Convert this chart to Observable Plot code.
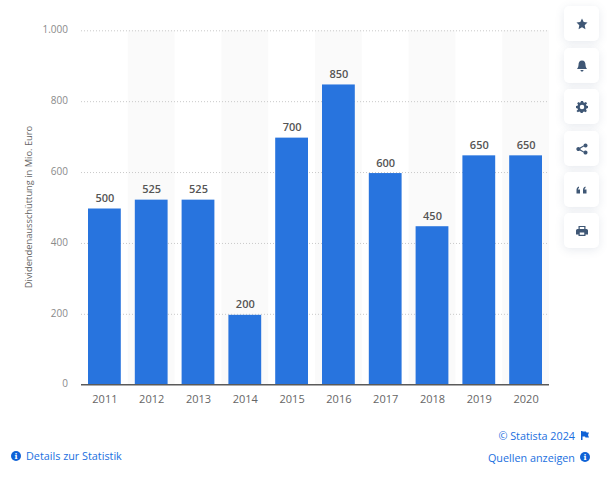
<!DOCTYPE html>
<html lang="de">
<head>
<meta charset="utf-8">
<script src="https://cdn.jsdelivr.net/npm/d3@7"></script>
<script src="https://cdn.jsdelivr.net/npm/@observablehq/plot@0.6"></script>
<style>
html,body{margin:0;padding:0;background:#fff;width:607px;height:479px;overflow:hidden;font-family:"Open Sans",sans-serif}
#chart{position:absolute;left:0;top:0}
.btn{position:absolute;left:564px;width:35px;height:35px;background:#fff;border-radius:5px;box-shadow:0 2px 10px rgba(70,90,130,.13);display:flex;align-items:center;justify-content:center}
.btn svg{width:12px;height:12px;fill:#3f5775}
.link{position:absolute;font-size:10.8px;color:#1a6fe0;line-height:14px;white-space:nowrap}
.dot{position:absolute;width:10px;height:10px;border-radius:50%;background:#0f62d6;color:#fff;font:bold 8px/10px "DejaVu Serif",serif;text-align:center}
</style>
</head>
<body>
<div id="chart"></div>
<div class="btn" style="top:6px"><svg viewBox="0 0 24 24"><path d="M12 1l3.400 7.200 7.600 1-5.600 5.300 1.500 7.800L12 18.500 5.100 22.300l1.500-7.800L1 9.200l7.600-1z"/></svg></div>
<div class="btn" style="top:48px"><svg viewBox="0 0 24 24"><path d="M12 1c5 0 7 4 7 9 0 4 2 6 3 8H2c1-2 3-4 3-8 0-5 2-9 7-9zM9 20h6c0 2-1.500 3-3 3s-3-1-3-3z"/></svg></div>
<div class="btn" style="top:89px"><svg viewBox="0 0 24 24"><path fill-rule="evenodd" d="M10 1h4l.6 3 2.400 1 2.600-1.700 2.800 2.800L20 8.700l1 2.400 3 .6v4l-3 .6-1 2.400 1.700 2.600-2.800 2.800-2.600-1.700-2.400 1-.6 2h-4l-.6-2-2.400-1-2.600 1.700-2.800-2.800L4 18.700l-1-2.400-3-.6v-4l3-.6 1-2.400-1.700-2.600 2.800-2.800L7 5l2.400-1zM12 9a4.500 4.500 0 100 9 4.500 4.500 0 000-9z" transform="translate(0 -1.500)"/></svg></div>
<div class="btn" style="top:131px"><svg viewBox="0 0 24 24"><path d="M19 1a4 4 0 11-3.300 6.200L9 11a4 4 0 010 2l6.700 3.800A4 4 0 1115 19l-7.500-4a4 4 0 110-6L15 5a4 4 0 014-4z"/></svg></div>
<div class="btn" style="top:172px"><svg viewBox="0 0 24 24"><path d="M1 12c0-4 2-6 5-7v3c-1 .5-2 1-2 3h4v8H1zM14 12c0-4 2-6 5-7v3c-1 .5-2 1-2 3h4v8h-7z"/></svg></div>
<div class="btn" style="top:213px"><svg viewBox="0 0 24 24"><path fill-rule="evenodd" d="M5 2h14v6h2a3 3 0 013 3v8h-5v3H5v-3H0v-8a3 3 0 013-3h2zM7.500 4v4h9V4zM7.500 15v4.500h9V15z"/></svg></div>

<div class="link" style="left:26px;top:449px">Details zur Statistik</div>
<div class="dot" style="left:11px;top:451px">i</div>
<div class="link" style="right:32px;top:429px">© Statista 2024</div>
<svg style="position:absolute;left:581px;top:431px;width:8px;height:9px" viewBox="0 0 8 9"><path fill="#0f62d6" d="M0 0h1.500v9H0zM1.500 .5H5l.5 1H8L7 4l1 2.500H4.500L4 5.500H1.500z"/></svg>
<div class="link" style="right:32px;top:451px">Quellen anzeigen</div>
<div class="dot" style="left:580px;top:452px">i</div>

<script>
const years = ["2011","2012","2013","2014","2015","2016","2017","2018","2019","2020"];
const payouts = [500,525,525,200,700,850,600,450,650,650];
const shadedYears = ["2012","2014","2016","2018","2020"];
const yTicks = [0,200,400,600,800,1000];
const yLabels = ["0","200","400","600","800","1.000"];
const yTitle = "Dividendenausschüttung in Mio. Euro";

const table = years.map((year,i)=>({year,value:payouts[i]}));
const font = "'Open Sans',sans-serif";

const plot = Plot.plot({
  width:607,
  height:479,
  marginLeft:81,
  marginRight:58,
  marginTop:30.3,
  marginBottom:94.3,
  style:{background:"transparent",fontFamily:font,overflow:"visible"},
  x:{type:"band",domain:years,padding:0,round:false,label:null},
  y:{domain:[0,1000],label:null},
  marks:[
    Plot.barY(shadedYears,{x:d=>d,y1:0,y2:1000,fill:"#fafafa"}),
    Plot.ruleY(yTicks.slice(1),{stroke:"#c9c9c9",strokeWidth:1,strokeDasharray:"1,2"}),
    Plot.barY(table,{x:"year",y:"value",fill:"#2874de",insetLeft:7,insetRight:7,insetTop:1}),
    Plot.ruleY([0],{stroke:"#5a5a5a",strokeWidth:1.5,dy:-0.5}),
    Plot.text(table,{x:"year",y:"value",text:d=>String(d.value),dy:-6,lineAnchor:"bottom",fontSize:11,fontWeight:600,fill:"#555",fontFamily:font}),
    Plot.axisX({tickSize:0,tickPadding:10,fontSize:11,fill:"#666",fontFamily:font,style:"letter-spacing:.5px",label:null}),
    Plot.axisY({ticks:yTicks,tickFormat:d=>yLabels[yTicks.indexOf(d)],tickSize:0,tickPadding:13.500,dy:-1,fontSize:10,fill:"#8a8a8a",fontFamily:font,label:null}),
    Plot.text([yTitle],{frameAnchor:"left",textAnchor:"middle",dx:-52,dy:-1,rotate:-90,fontSize:9.300,fill:"#666",fontFamily:font})
  ]
});
document.getElementById("chart").appendChild(plot);
</script>
</body>
</html>
